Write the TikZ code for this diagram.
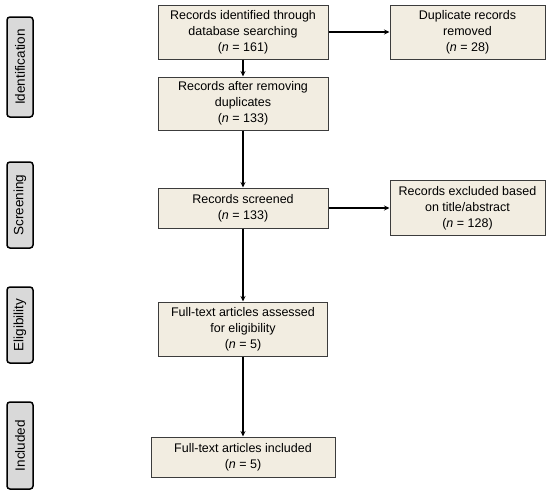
\documentclass[tikz,border=0pt]{standalone}
\usepackage{fontspec}
\setmainfont{Liberation Sans}
\usepackage{tikz}
\usetikzlibrary{positioning, arrows.meta}
\definecolor{boxfill}{HTML}{F2EDE1}
\definecolor{boxline}{HTML}{3C3C3C}
\definecolor{stagefill}{HTML}{D9D9D9}
\tikzset{
	recbox/.style={draw=boxline, line width=1pt, fill=boxfill, align=center,
		inner sep=2pt, font=\fontsize{12.5}{16}\selectfont}
}
\tikzset{
	stagebox/.style={draw=black, line width=1.5pt, fill=stagefill, rounded corners=3pt,
		rotate=90, minimum height=26pt, inner sep=1pt, font=\fontsize{13.5}{16}\selectfont}
}
\newcommand{\nn}[1]{(\textit{n} = #1)}

\begin{document}
\begin{tikzpicture}[x=1pt, y=-1pt, >={Stealth[length=5.5pt,width=5pt]}]
      \useasboundingbox (0,0) rectangle (550,496);
      % stages
      \node[stagebox, minimum width=100pt] (sIdent) at (20,67) {Identification};
      \node[stagebox, minimum width=86pt] (sScreen) at (20,205) {Screening};
      \node[stagebox, minimum width=76pt] (sElig) at (20,325) {Eligibility};
      \node[stagebox, minimum width=87pt] (sIncl) at (20,445.5) {Included};
      % main column
      \node[recbox, minimum width=170pt, minimum height=54pt] (found) at (243,32) {Records identified through\\database searching\\\nn{161}};
      \node[recbox, minimum width=170pt, minimum height=53pt] (nodup) at (243,103.5) {Records after removing\\duplicates\\\nn{133}};
      \node[recbox, minimum width=170pt, minimum height=40pt] (screen) at (243,208) {Records screened\\\nn{133}};
      \node[recbox, minimum width=169pt, minimum height=54pt] (elig) at (243,329) {Full-text articles assessed\\for eligibility\\\nn{5}};
      \node[recbox, minimum width=184pt, minimum height=40pt] (incl) at (243,457) {Full-text articles included\\\nn{5}};
      % side boxes
      \node[recbox, minimum width=155pt, minimum height=54pt] (dup) at (467.5,32) {Duplicate records\\removed\\\nn{28}};
      \node[recbox, minimum width=155pt, minimum height=55pt] (excl) at (467.5,208) {Records excluded based\\on title/abstract\\\nn{128}};
      % arrows
      \draw[->, line width=1.2pt] (found) -- (nodup);
      \draw[->, line width=1.2pt] (nodup) -- (screen);
      \draw[->, line width=1.2pt] (screen) -- (elig);
      \draw[->, line width=1.2pt] (elig) -- (incl);
      \draw[->, line width=1.2pt] (found) -- (dup);
      \draw[->, line width=1.2pt] (screen) -- (excl);
    \end{tikzpicture}
\end{document}
